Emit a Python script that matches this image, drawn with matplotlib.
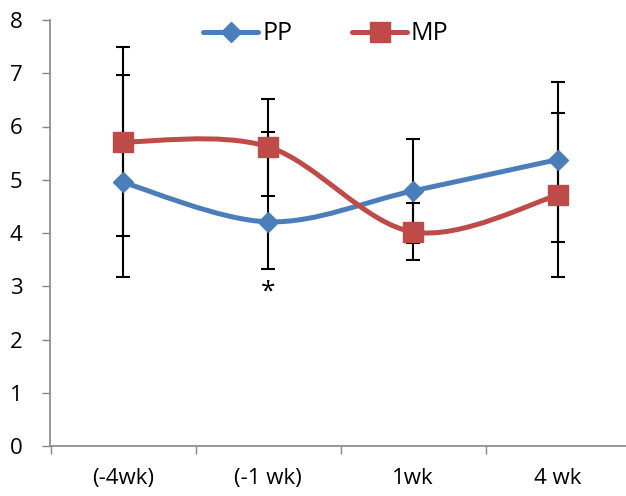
import numpy as np
import matplotlib
matplotlib.use("Agg")
import matplotlib.pyplot as plt
from matplotlib.path import Path
from matplotlib.patches import PathPatch
from matplotlib.lines import Line2D

plt.rcParams['font.family'] = ['Open Sans', 'DejaVu Sans']

categories = ["(-4wk)", "(-1 wk)", "1wk", "4 wk"]

pp_mean = [4.95, 4.21, 4.79, 5.38]
pp_err_hi = [2.02, 1.68, 0.98, 1.46]
pp_err_lo = [1.77, 0.89, 0.98, 1.54]

mp_mean = [5.71, 5.62, 4.02, 4.71]
mp_err_hi = [1.79, 0.89, 0.55, 1.54]
mp_err_lo = [1.77, 0.92, 0.53, 1.54]

y_ticks = [0, 1, 2, 3, 4, 5, 6, 7, 8]
star_index = 1

BLUE = "#4A7EBB"
RED = "#BE4B48"
AXIS = "#868686"


def smooth_path(xs, ys):
    """Catmull-Rom curve through the points, as cubic Bezier segments."""
    pts = np.column_stack([xs, ys]).astype(float)
    n = len(pts)
    verts = [pts[0]]
    codes = [Path.MOVETO]
    for i in range(n - 1):
        p0 = pts[i - 1] if i > 0 else pts[i]
        p1 = pts[i]
        p2 = pts[i + 1]
        p3 = pts[i + 2] if i + 2 < n else pts[i + 1]
        c1 = p1 + (p2 - p0) / 6.0
        c2 = p2 - (p3 - p1) / 6.0
        verts += [c1, c2, p2]
        codes += [Path.CURVE4] * 3
    return Path(verts, codes)


fig = plt.figure(figsize=(6.26, 4.96), dpi=100)
ax = fig.add_axes([50.5 / 626, 50 / 496, 580 / 626, 426 / 496])

x = np.arange(len(categories))

# error bars underneath the series
for mean, lo, hi in ((pp_mean, pp_err_lo, pp_err_hi), (mp_mean, mp_err_lo, mp_err_hi)):
    ax.errorbar(x, mean, yerr=[lo, hi], fmt="none", ecolor="black",
                elinewidth=1.5, capsize=5, capthick=1.5, zorder=2)

# smoothed series lines with markers
for mean, color, marker, ms, z in ((pp_mean, BLUE, "D", 10, 3), (mp_mean, RED, "s", 15, 4)):
    ax.add_patch(PathPatch(smooth_path(x, mean), facecolor="none", edgecolor=color,
                           lw=3.6, capstyle="round", joinstyle="round", zorder=z))
    ax.plot(x, mean, linestyle="none", marker=marker, ms=ms, color=color,
            markeredgecolor=color, zorder=z + 0.5)

ax.text(x[star_index], pp_mean[star_index] - pp_err_lo[star_index] - 0.43, "*",
        ha="center", va="center", fontsize=19, color="black")

ax.set_xlim(-0.5, len(categories) - 0.5)
ax.set_ylim(y_ticks[0], y_ticks[-1])

ax.set_yticks(y_ticks)
ax.set_yticklabels([str(t) for t in y_ticks])
ax.set_xticks(np.arange(-0.5, len(categories), 1.0))
ax.set_xticklabels([])
ax.set_xticks(x, minor=True)
ax.set_xticklabels(categories, minor=True)

ax.tick_params(axis="y", which="major", direction="out", length=6, width=1,
               color=AXIS, labelsize=16, pad=14)
ax.tick_params(axis="x", which="major", direction="out", length=6, width=1, color=AXIS)
ax.tick_params(axis="x", which="minor", length=0, labelsize=16, pad=16)

for s in ("top", "right"):
    ax.spines[s].set_visible(False)
for s in ("left", "bottom"):
    ax.spines[s].set_color(AXIS)
    ax.spines[s].set_linewidth(1.2)

handles = [
    Line2D([], [], color=BLUE, lw=3.6, marker="D", ms=10, solid_capstyle="round"),
    Line2D([], [], color=RED, lw=3.6, marker="s", ms=15, solid_capstyle="round"),
]
fig.legend(handles, ["PP", "MP"], loc="center", bbox_to_anchor=(326 / 626, 1 - 34 / 496),
           ncol=2, frameon=False, fontsize=18, handlelength=2.2, columnspacing=2.4,
           handletextpad=0.15)

fig.savefig("out.png", dpi=100)
